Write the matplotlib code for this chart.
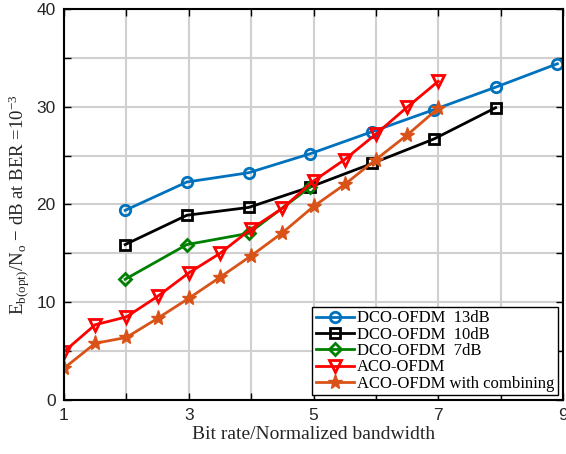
import matplotlib
matplotlib.use('Agg')
import matplotlib.pyplot as plt

# DCO-OFDM points sit slightly left of the integer grid lines
x_dco = [1.98, 2.97, 3.96, 4.95, 5.94, 6.93, 7.92, 8.91]
dco_13 = [19.4, 22.3, 23.25, 25.2, 27.45, 29.7, 32.0, 34.4]
dco_10 = [15.9, 18.9, 19.7, 21.8, 24.2, 26.7, 29.9]
dco_7 = [12.35, 15.9, 17.05, 21.8]

x_aco = [1, 1.5, 2, 2.5, 3, 3.5, 4, 4.5, 5, 5.5, 6, 6.5, 7]
aco = [4.95, 7.7, 8.5, 10.6, 13.0, 15.0, 17.5, 19.6, 22.4, 24.6, 27.2, 29.95, 32.6]
aco_comb = [3.25, 5.8, 6.4, 8.35, 10.4, 12.55, 14.75, 17.1, 19.8, 22.05, 24.6, 27.1, 29.85]

x_ticks = [1, 2, 3, 4, 5, 6, 7, 8, 9]
x_labels = ['1', '', '3', '', '5', '', '7', '', '9']
y_ticks = [0, 5, 10, 15, 20, 25, 30, 35, 40]
y_labels = ['0', '', '10', '', '20', '', '30', '', '40']

plt.rcParams['font.family'] = ['Liberation Sans', 'DejaVu Sans']
plt.rcParams['mathtext.fontset'] = 'custom'
plt.rcParams['mathtext.rm'] = 'Liberation Serif'
plt.rcParams['mathtext.it'] = 'Liberation Serif:italic'

fig = plt.figure(figsize=(5.66, 4.54), dpi=100)
ax = fig.add_axes([64 / 566, 54 / 454, 499 / 566, 391 / 454])

ax.plot(x_dco, dco_13, '-o', color='#0072BD', markerfacecolor='none', label='DCO-OFDM  13dB',
        linewidth=2, markersize=7.5, markeredgewidth=2)
ax.plot(x_dco[:len(dco_10)], dco_10, '-s', color='black', markerfacecolor='none',
        label='DCO-OFDM  10dB', linewidth=2, markersize=6.5, markeredgewidth=2)
ax.plot(x_dco[:len(dco_7)], dco_7, '-D', color='#008000', markerfacecolor='none',
        label='DCO-OFDM  7dB', linewidth=2, markersize=6.5, markeredgewidth=2)
ax.plot(x_aco, aco, '-v', color='#FF0000', markerfacecolor='none', label='ACO-OFDM',
        linewidth=2, markersize=9, markeredgewidth=2)
ax.plot(x_aco, aco_comb, '-*', color='#D95319', label='ACO-OFDM with combining',
        linewidth=2, markersize=11, markeredgewidth=1)

ax.set_xlim(1, 9)
ax.set_ylim(0, 40)
ax.set_xticks(x_ticks)
ax.set_xticklabels(x_labels)
ax.set_yticks(y_ticks)
ax.set_yticklabels(y_labels)
ax.tick_params(direction='in', top=True, right=True, length=5, width=1,
               labelsize=12.5, labelcolor='#262626', pad=6)
ax.grid(True, color='#d0d0d0', linewidth=1.5)
ax.set_axisbelow(True)
for s in ax.spines.values():
    s.set_linewidth(1.5)

ax.set_xlabel('Bit rate/Normalized bandwidth', family='Liberation Serif', fontsize=14,
              color='#262626', labelpad=2)
ax.set_ylabel(r'$\mathrm{E_{b(opt)}/N_o}$ $-$ dB at BER =10$^{-3}$', family='Liberation Serif',
              fontsize=13.5, color='#262626', labelpad=4)

leg = ax.legend(loc='lower right', prop={'family': 'Liberation Serif', 'size': 12},
                fancybox=False, edgecolor='black', framealpha=1, borderaxespad=0.3,
                handlelength=2.3, handletextpad=0.2, labelspacing=0.02, borderpad=0.2)
leg.get_frame().set_linewidth(1)

fig.savefig('out.png', dpi=100)
